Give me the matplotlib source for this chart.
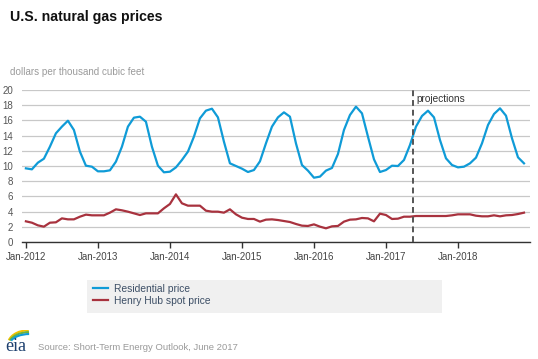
#!/usr/bin/env python3
"""U.S. natural gas prices (STEO June 2017) recreation."""

import matplotlib
matplotlib.use('Agg')
import matplotlib.pyplot as plt
from matplotlib.patches import Rectangle, Arc
import numpy as np

plt.rcParams['font.family'] = ['Liberation Sans', 'DejaVu Sans']

# monthly data, Jan-2012 .. Dec-2018
residential = [
    9.69, 9.56, 10.44, 10.96, 12.54, 14.30, 15.18, 15.96, 14.74, 11.89, 10.04, 9.91,   # 2012
    9.30, 9.30, 9.43, 10.57, 12.54, 15.18, 16.36, 16.49, 15.83, 12.54, 10.04, 9.17,    # 2013
    9.25, 9.82, 10.79, 11.89, 13.86, 16.27, 17.28, 17.54, 16.40, 13.20, 10.35, 10.00,  # 2014
    9.65, 9.21, 9.47, 10.61, 12.98, 15.18, 16.40, 17.06, 16.49, 12.98, 10.13, 9.39,    # 2015
    8.46, 8.60, 9.39, 9.74, 11.58, 14.74, 16.71, 17.81, 16.93, 13.86, 10.88, 9.21,     # 2016
    9.47, 10.04, 10.00, 10.79, 12.76, 15.18, 16.58, 17.28, 16.40, 13.42, 11.01, 10.13, # 2017
    9.82, 9.91, 10.35, 11.10, 12.98, 15.39, 16.84, 17.59, 16.62, 13.64, 11.14, 10.35,  # 2018
]
henry_hub = [
    2.72, 2.54, 2.19, 2.02, 2.54, 2.59, 3.11, 2.98, 2.98, 3.33, 3.60, 3.51,  # 2012
    3.51, 3.51, 3.86, 4.30, 4.17, 3.99, 3.77, 3.55, 3.77, 3.77, 3.77, 4.43,  # 2013
    5.00, 6.27, 5.09, 4.78, 4.78, 4.78, 4.12, 3.99, 3.99, 3.86, 4.30, 3.64,  # 2014
    3.20, 3.03, 3.03, 2.68, 2.94, 2.98, 2.89, 2.76, 2.63, 2.37, 2.15, 2.11,  # 2015
    2.32, 2.02, 1.80, 2.06, 2.11, 2.68, 2.94, 2.98, 3.16, 3.11, 2.72, 3.73,  # 2016
    3.55, 3.03, 3.07, 3.33, 3.33, 3.42, 3.42, 3.42, 3.42, 3.42, 3.42, 3.51,  # 2017
    3.64, 3.64, 3.64, 3.46, 3.38, 3.38, 3.51, 3.38, 3.51, 3.55, 3.68, 3.86,  # 2018
]
year_labels = ['Jan-2012', 'Jan-2013', 'Jan-2014', 'Jan-2015', 'Jan-2016', 'Jan-2017', 'Jan-2018']
y_ticks = [0, 2, 4, 6, 8, 10, 12, 14, 16, 18, 20]
projection_start = 64.5  # between May and Jun 2017

months = np.arange(len(residential))

W, H = 538, 359
fig = plt.figure(figsize=(W / 100, H / 100), dpi=100)
fig.patch.set_facecolor('white')

ax = fig.add_axes([21.7 / W, 1 - 242 / H, (530 - 21.7) / W, (242 - 90) / H])
ax.plot(months, residential, color='#0f9bd7', lw=1.6, label='Residential price', zorder=3)
ax.plot(months, henry_hub, color='#a8323e', lw=1.6, label='Henry Hub spot price', zorder=3)

ax.set_xlim(-0.7, 84)
ax.set_ylim(0, 20)
ax.set_yticks(y_ticks)
ax.set_xticks(np.arange(0, 84, 12))
ax.set_xticklabels(year_labels)
ax.grid(axis='y', color='#c8c8c8', lw=0.9)
ax.set_axisbelow(True)
for s in ['top', 'right', 'left']:
    ax.spines[s].set_visible(False)
ax.spines['bottom'].set_color('#333333')
ax.spines['bottom'].set_linewidth(1.0)
ax.tick_params(axis='y', length=0, pad=6, labelsize=7, labelcolor='#555555')
ax.tick_params(axis='x', length=4, width=1, color='#333333', pad=3,
               labelsize=7, labelcolor='#444444')

# projections marker
ax.axvline(projection_start, color='#555555', lw=1.4, ls=(0, (3, 2)), zorder=4)
ax.text(projection_start + 0.6, 18.8, 'projections', fontsize=7.3, color='#333333',
        va='center', ha='left')

# titles
fig.text(10 / W, 1 - 17 / H, 'U.S. natural gas prices', fontsize=10.2,
         fontweight='bold', color='#111111', va='center', ha='left')
fig.text(10 / W, 1 - 72 / H, 'dollars per thousand cubic feet', fontsize=7.1,
         color='#9a9a9a', va='center', ha='left')

# legend box
fig.patches.append(Rectangle((87 / W, 1 - 313 / H), 355 / W, 33 / H,
                             transform=fig.transFigure, facecolor='#f0f0f0',
                             edgecolor='none', zorder=0))
leg = fig.legend(loc='upper left', bbox_to_anchor=(93 / W, 1 - 284 / H),
                 frameon=False, fontsize=7.4, handlelength=1.5, handletextpad=0.5,
                 labelspacing=0.15, borderpad=0, borderaxespad=0)
for t in leg.get_texts():
    t.set_color('#3d4f66')

# eia logo + source (logo axes: 1 unit = 1 px, origin at px (3, 356))
lax = fig.add_axes([3 / W, 1 - 356 / H, 30 / W, 26 / H])
lax.set_xlim(0, 30)
lax.set_ylim(0, 26)
lax.axis('off')
lax.add_patch(Arc((27, 12), 44, 28, theta1=95, theta2=170, color='#f2c200', lw=1.5))
lax.add_patch(Arc((27, 12), 42, 24, theta1=95, theta2=170, color='#6cb33f', lw=1.5))
lax.add_patch(Arc((27, 12), 40, 20, theta1=95, theta2=170, color='#0f9bd7', lw=1.5))
lax.text(2, 5, 'eia', family=['Liberation Serif', 'DejaVu Serif'], fontsize=13,
         color='#1c3f6e', va='baseline', ha='left')
fig.text(38 / W, 1 - 348 / H, 'Source: Short-Term Energy Outlook, June 2017',
         fontsize=6.8, color='#9a9a9a', va='center', ha='left')

fig.savefig('out.png', dpi=100, facecolor='white')
plt.close(fig)
